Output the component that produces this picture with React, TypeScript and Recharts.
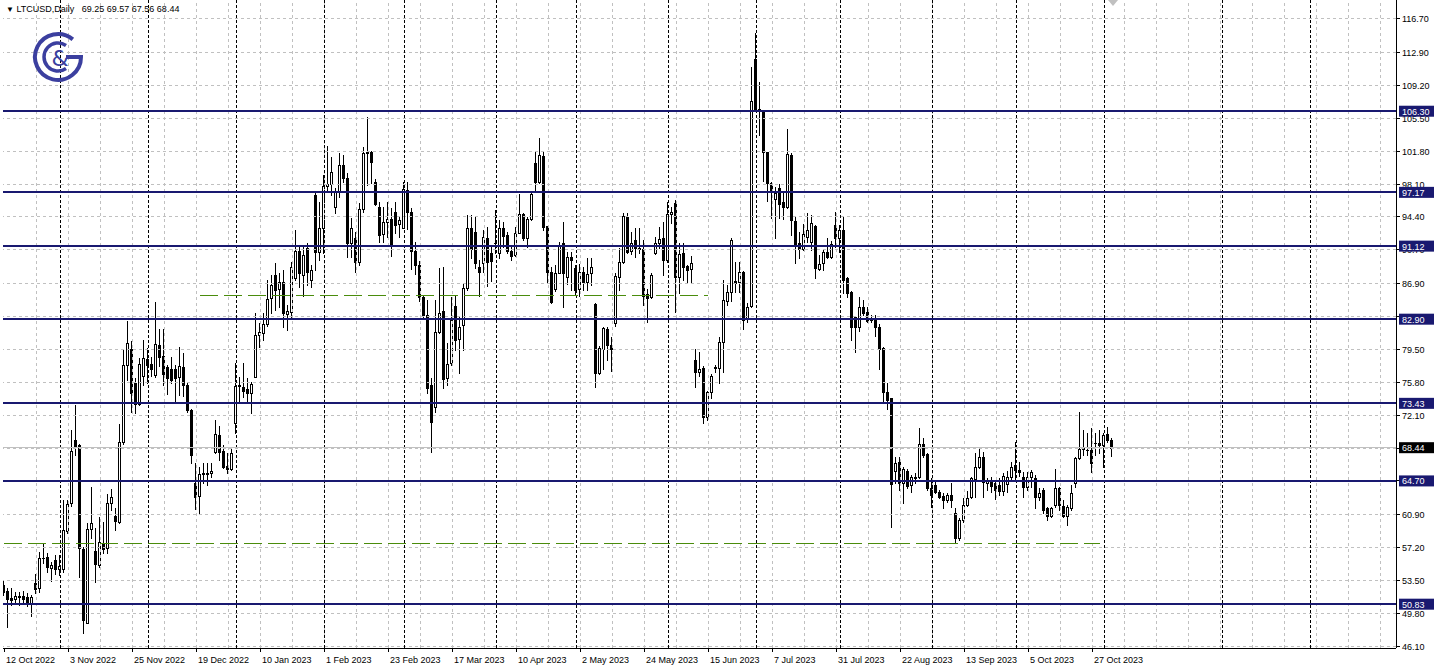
import React from 'react';
import { ComposedChart, Bar, XAxis, YAxis, ReferenceLine } from 'recharts';

// daily LTCUSD candles, one per weekday from 12 Oct 2022
const opens = [
  53.0, 52.35, 51.52, 51.37, 51.7, 51.75, 51.67, 51.0, 53.17, 52.61, 56.06, 56.1, 54.94, 55.8, 54.75, 54.75, 59.1, 62.18, 69.3, 68.74,
  57.0, 48.75, 59.25, 56.81, 55.24, 57.75, 57.11, 62.18, 60.75, 60.11, 69.12, 77.8, 79.5, 75.7, 73.3, 76.54, 78.38, 77.81, 76.61, 79.99,
  78.75, 77.55, 77.25, 77.25, 76.35, 77.55, 75.53, 72.67, 64.5, 63.04, 65.44, 65.55, 65.55, 67.99, 69.86, 68.1, 66.37, 66.0, 71.17, 75.38,
  75.3, 75.0, 74.55, 76.43, 81.11, 81.38, 82.35, 85.24, 87.87, 86.25, 87.12, 83.44, 83.74, 87.5, 90.57, 87.87, 90.95, 87.31, 96.87, 90.5,
  93.12, 97.85, 98.07, 95.56, 97.25, 100.25, 98.82, 91.43, 92.0, 89.3, 95.3, 101.56, 101.75, 98.37, 95.56, 92.44, 93.8, 94.13, 95.0, 93.57,
  93.2, 97.43, 95.0, 90.6, 89.0, 85.43, 83.36, 75.49, 73.05, 81.49, 83.81, 76.24, 77.92, 84.38, 80.62, 82.24, 86.36, 93.11, 92.74, 88.8,
  89.25, 91.99, 90.38, 91.5, 90.3, 93.11, 92.36, 90.6, 90.11, 92.63, 94.69, 91.99, 94.13, 100.5, 98.37, 101.25, 93.38, 88.2, 86.25, 88.13,
  91.43, 87.6, 89.93, 88.62, 86.25, 88.24, 87.11, 88.05, 84.6, 76.87, 79.5, 81.75, 79.99, 82.5, 87.6, 89.37, 94.43, 90.6, 91.8, 90.9,
  90.75, 85.73, 85.35, 90.38, 91.43, 91.99, 89.55, 94.73, 96.0, 87.6, 90.3, 88.88, 88.5, 78.3, 77.0, 77.4, 71.9, 74.66, 77.4, 77.44,
  80.37, 84.94, 85.99, 87.19, 87.04, 88.24, 82.92, 84.42, 112.17, 106.55, 106.32, 101.67, 98.18, 96.42, 97.7, 96.04, 95.56, 101.37, 93.94, 91.43,
  90.79, 92.2, 91.62, 93.42, 88.54, 89.18, 90.42, 89.93, 93.49, 91.99, 92.93, 87.5, 85.99, 83.18, 81.98, 84.23, 83.74, 82.99, 82.99, 82.06,
  79.62, 74.74, 73.99, 65.85, 66.87, 64.43, 65.85, 64.24, 65.1, 65.18, 68.85, 67.73, 63.86, 64.24, 63.49, 63.0, 62.55, 63.11, 61.05, 58.24,
  60.3, 61.99, 62.93, 64.9, 66.3, 67.35, 64.42, 64.73, 64.42, 64.24, 63.6, 64.3, 65.17, 66.49, 65.92, 65.17, 64.05, 65.17, 64.99, 62.92,
  63.67, 61.61, 60.75, 61.98, 63.86, 61.87, 60.75, 61.61, 64.5, 67.24, 68.25, 68.2, 68.17, 68.92, 68.92, 68.74, 69.94, 69.25,
];
const highs = [
  53.4, 52.6, 52.6, 52.24, 52.24, 52.35, 52.05, 51.86, 54.19, 56.74, 57.67, 56.63, 55.61, 56.36, 56.36, 62.55, 62.55, 70.43, 73.24, 68.9,
  57.3, 59.93, 64.05, 59.36, 60.68, 60.11, 63.23, 63.79, 61.61, 71.1, 79.5, 82.7, 80.5, 76.3, 78.5, 80.55, 79.61, 78.6, 84.87, 81.75,
  81.79, 77.74, 78.68, 77.74, 79.8, 79.05, 75.68, 72.8, 66.67, 66.3, 66.67, 66.67, 66.67, 71.55, 70.87, 68.74, 67.8, 68.36, 77.93, 76.43,
  77.93, 76.24, 75.86, 83.55, 82.43, 83.63, 87.3, 87.87, 89.18, 88.05, 88.43, 84.5, 89.37, 92.93, 91.25, 91.25, 91.43, 89.0, 97.06, 96.12,
  99.12, 102.39, 101.19, 97.62, 101.56, 101.37, 99.31, 94.25, 92.75, 95.94, 102.31, 105.69, 101.8, 98.67, 96.12, 95.56, 96.12, 95.37, 96.12, 94.5,
  98.3, 98.3, 95.37, 91.6, 89.4, 85.6, 85.05, 76.24, 85.05, 88.61, 88.8, 80.17, 85.43, 85.5, 83.18, 86.85, 94.62, 94.62, 94.43, 89.55,
  92.93, 93.3, 91.05, 95.18, 94.05, 93.86, 92.74, 91.05, 93.3, 96.98, 94.88, 94.35, 97.3, 101.85, 103.24, 101.85, 93.4, 88.8, 88.99, 91.61,
  93.87, 90.49, 90.49, 88.99, 89.1, 88.73, 89.74, 89.74, 84.7, 79.88, 82.05, 82.05, 80.93, 88.05, 90.87, 94.88, 94.8, 92.74, 93.12, 93.12,
  91.8, 86.25, 88.05, 92.18, 93.3, 93.87, 96.12, 95.55, 96.3, 91.43, 91.43, 88.99, 90.0, 79.6, 79.2, 77.6, 74.8, 76.69, 77.74, 80.93,
  87.31, 86.74, 91.99, 89.37, 89.37, 88.3, 84.68, 111.31, 115.06, 109.62, 106.44, 101.75, 98.37, 97.81, 98.07, 97.06, 104.3, 101.56, 94.43, 92.74,
  93.57, 94.81, 94.62, 93.49, 90.12, 90.79, 92.07, 91.69, 94.92, 93.49, 94.54, 87.6, 86.1, 83.3, 85.36, 85.06, 84.31, 83.37, 83.37, 82.36,
  79.81, 75.68, 74.0, 67.35, 67.35, 66.3, 66.0, 65.36, 65.55, 70.62, 69.49, 67.8, 64.99, 64.8, 63.68, 63.3, 63.3, 64.43, 61.61, 60.49,
  62.74, 63.6, 65.18, 67.8, 68.37, 67.99, 64.99, 65.17, 64.8, 64.99, 65.55, 65.8, 66.86, 69.11, 66.86, 65.74, 65.74, 65.92, 65.36, 63.86,
  63.86, 61.8, 61.72, 66.0, 64.05, 62.55, 61.98, 64.24, 67.42, 72.49, 70.42, 70.05, 70.61, 70.05, 70.42, 70.05, 70.8, 69.57,
];
const lows = [
  51.9, 48.3, 50.74, 50.92, 50.74, 50.92, 50.62, 49.5, 52.12, 52.24, 55.42, 54.49, 53.47, 54.22, 54.11, 54.49, 58.8, 61.9, 67.62, 53.92,
  47.55, 48.67, 58.24, 53.36, 55.05, 56.63, 56.55, 61.43, 59.18, 60.0, 68.9, 76.0, 72.5, 72.3, 73.2, 75.49, 75.68, 76.5, 76.43, 77.63,
  75.49, 74.48, 75.75, 73.5, 74.36, 74.25, 72.49, 66.67, 61.5, 60.97, 64.42, 64.24, 65.17, 67.87, 67.05, 66.11, 65.55, 65.92, 70.05, 73.61,
  74.18, 73.5, 72.37, 76.35, 79.8, 80.55, 82.13, 83.55, 83.93, 84.3, 82.05, 81.68, 83.0, 87.31, 86.56, 85.54, 86.74, 86.56, 88.43, 89.56,
  90.31, 97.25, 96.87, 94.81, 96.68, 98.37, 89.93, 89.93, 88.25, 89.0, 95.0, 98.0, 98.18, 95.7, 91.62, 91.62, 92.18, 90.05, 92.56, 92.2,
  93.12, 93.06, 88.5, 88.0, 85.0, 83.0, 74.55, 67.98, 72.48, 81.3, 75.11, 75.49, 77.74, 79.42, 76.8, 79.42, 86.18, 89.74, 88.61, 85.54,
  88.24, 86.66, 87.23, 90.3, 89.74, 91.05, 90.3, 89.55, 90.0, 92.55, 91.8, 90.98, 94.05, 97.43, 98.18, 92.93, 86.93, 84.68, 86.1, 88.05,
  84.23, 86.85, 86.18, 85.61, 85.5, 86.18, 86.18, 86.74, 75.3, 76.72, 77.25, 78.3, 77.1, 82.13, 86.18, 89.18, 90.3, 90.23, 89.93, 90.3,
  84.49, 82.61, 85.24, 90.23, 90.87, 87.87, 89.37, 93.68, 83.74, 85.8, 87.3, 87.11, 86.93, 75.3, 76.5, 71.2, 71.6, 74.06, 76.99, 75.68,
  76.99, 84.49, 84.94, 85.99, 85.99, 81.79, 82.62, 84.3, 106.32, 103.62, 98.45, 96.2, 94.32, 91.99, 94.24, 94.17, 95.44, 92.37, 89.18, 89.74,
  90.68, 91.62, 90.68, 87.49, 88.43, 88.43, 89.74, 89.74, 91.06, 90.49, 85.8, 85.43, 80.56, 79.24, 81.61, 83.37, 82.62, 82.62, 81.01, 77.26,
  73.5, 72.75, 59.55, 64.5, 63.68, 62.18, 63.86, 63.49, 64.5, 64.99, 67.43, 63.68, 61.8, 63.3, 62.74, 61.61, 62.36, 61.73, 57.68, 58.05,
  60.11, 61.88, 62.74, 62.93, 66.11, 62.92, 63.67, 63.48, 62.62, 63.11, 63.11, 63.4, 64.8, 64.8, 65.25, 62.92, 63.67, 64.05, 61.61, 62.55,
  61.12, 60.3, 60.6, 61.8, 61.42, 60.67, 59.73, 61.42, 64.05, 67.12, 67.61, 67.61, 65.74, 67.61, 67.8, 66.3, 69.11, 67.56,
];
const closes = [
  52.2, 51.37, 51.3, 51.75, 51.65, 51.37, 51.04, 51.6, 52.57, 55.99, 56.0, 54.97, 55.24, 54.75, 55.13, 59.18, 62.1, 68.1, 68.6, 57.11,
  49.05, 59.25, 59.93, 55.31, 57.79, 57.0, 62.18, 62.93, 60.23, 69.12, 77.8, 80.2, 74.6, 73.3, 77.9, 78.49, 77.74, 77.25, 80.06, 78.68,
  76.73, 76.24, 76.05, 76.31, 77.63, 75.49, 72.67, 67.61, 62.92, 65.44, 65.62, 65.5, 65.81, 69.97, 67.99, 66.22, 66.0, 67.8, 75.38, 75.53,
  74.85, 74.55, 75.6, 81.11, 81.49, 82.35, 85.13, 86.74, 86.18, 87.12, 83.55, 83.82, 88.81, 90.57, 88.06, 90.12, 88.25, 88.43, 90.5, 93.2,
  97.89, 98.07, 99.5, 97.25, 100.25, 98.82, 91.43, 93.12, 89.3, 95.3, 101.56, 101.67, 100.62, 95.82, 92.37, 93.87, 94.13, 91.25, 93.5, 94.06,
  97.55, 95.0, 90.6, 89.0, 85.43, 83.36, 75.11, 71.36, 81.49, 83.62, 76.12, 77.81, 82.8, 80.55, 81.97, 86.36, 93.11, 90.75, 89.25, 88.24,
  92.1, 89.36, 89.48, 91.45, 93.11, 92.25, 90.6, 90.0, 92.55, 94.73, 91.99, 94.13, 97.0, 98.37, 101.37, 93.23, 88.24, 84.86, 88.13, 91.24,
  88.05, 89.93, 89.55, 86.18, 88.24, 87.11, 87.98, 88.73, 76.87, 79.61, 81.86, 79.99, 79.5, 87.75, 89.37, 94.5, 90.49, 91.43, 90.87, 90.85,
  85.5, 85.24, 87.87, 91.43, 91.88, 89.55, 94.73, 94.99, 87.6, 90.23, 88.8, 88.43, 89.18, 77.0, 77.35, 71.9, 74.66, 76.54, 77.5, 80.37,
  85.05, 85.99, 91.81, 86.93, 88.17, 82.8, 84.3, 107.45, 106.44, 106.4, 101.67, 98.18, 97.25, 97.06, 95.82, 95.56, 101.45, 94.06, 91.24, 90.79,
  92.44, 92.9, 93.68, 88.62, 89.07, 90.42, 89.93, 91.32, 91.99, 92.93, 87.31, 85.81, 81.98, 81.98, 84.23, 83.63, 82.73, 82.81, 82.06, 79.51,
  74.74, 73.8, 64.35, 66.75, 64.43, 66.0, 64.13, 65.18, 65.05, 68.85, 67.62, 63.86, 63.11, 63.49, 62.93, 62.55, 63.11, 62.55, 58.24, 60.3,
  61.99, 62.74, 64.99, 66.3, 67.43, 64.6, 64.8, 64.12, 63.67, 63.6, 65.25, 65.17, 66.3, 65.92, 65.74, 64.05, 65.17, 65.74, 62.92, 63.37,
  61.42, 60.75, 61.61, 63.86, 61.98, 60.75, 61.72, 63.37, 67.24, 68.25, 68.36, 68.17, 66.67, 69.0, 68.74, 69.86, 69.3, 68.44,
];

const tickBars = [0, 16, 32, 48, 64, 80, 96, 112, 128, 144, 160, 176, 192, 208, 224, 240, 256, 272];
const tickLabels = [
  '12 Oct 2022', '3 Nov 2022', '25 Nov 2022', '19 Dec 2022', '10 Jan 2023', '1 Feb 2023', '23 Feb 2023', '17 Mar 2023', '10 Apr 2023',
  '2 May 2023', '24 May 2023', '15 Jun 2023', '7 Jul 2023', '31 Jul 2023', '22 Aug 2023', '13 Sep 2023', '5 Oct 2023', '27 Oct 2023',
];
const monthStartBars = [14, 36, 58, 80, 100, 123, 143, 166, 188, 209, 232, 253, 275];
const futureMarkBars = [304.5, 326.5];
const priceTicks = [116.7, 112.9, 109.2, 105.5, 101.8, 98.1, 94.4, 90.7, 86.9, 83.2, 79.5, 75.8, 72.1, 68.4, 64.7, 60.9, 57.2, 53.5, 49.8, 46.1];
const levelPrices = [106.3, 97.17, 91.12, 82.9, 73.43, 64.7, 50.83];
const lastPrice = 68.44;
const trendLines = [
  { price: 85.62, from: 49, to: 176 },
  { price: 57.68, from: 0, to: 274 },
];
const symbolTitle = 'LTCUSD,Daily';
const ohlcTitle = '69.25 69.57 67.56 68.44';

const candles = opens.map((o, i) => ({ i, open: o, high: highs[i], low: lows[i], close: closes[i] }));

const W = 1438;
const H = 671;
const NAVY = '#191970';
const GRID = '#c0c0c0';
const FONT = '"Liberation Sans", Arial, sans-serif';
const Y_DOMAIN = [45.9, 118.815];
const gridBars = Array.from({ length: 43 }, (_, k) => (k + 1) * 8);

const Candle = (props: any) => {
  const { x, y, width, height, payload } = props;
  const { open, high, low, close } = payload;
  const cx = Math.floor(x + width / 2 + 0.01);
  const span = high - low || 1;
  const yOf = (v: number) => y + ((high - v) / span) * height;
  const yh = Math.round(y);
  const yl = Math.round(y + height);
  const top = Math.round(yOf(Math.max(open, close)));
  const bot = Math.round(yOf(Math.min(open, close)));
  const bull = close >= open;
  return (
    <g>
      <rect x={cx} y={yh} width={1} height={Math.max(1, yl - yh + 1)} fill="#000" />
      <rect x={cx - 1} y={top} width={3} height={Math.max(1, bot - top + 1)} fill="#000" />
      {bull && bot - top >= 2 && <rect x={cx} y={top + 1} width={1} height={bot - top - 1} fill="#fff" />}
    </g>
  );
};

const XTick = (props: any) => {
  const { x, y, payload } = props;
  const idx = tickBars.indexOf(payload.value);
  return (
    <g>
      <line x1={x} x2={x} y1={y} y2={y + 4} stroke="#000" />
      <text x={x + 2} y={y + 15} fontSize={9} fontFamily={FONT} fill="#000">
        {tickLabels[idx]}
      </text>
    </g>
  );
};

const YTick = (props: any) => {
  const { x, y, payload, index } = props;
  const v = Number(payload.value);
  if (index >= priceTicks.length) {
    const isLast = index === priceTicks.length + levelPrices.length;
    return (
      <g>
        <rect x={x + 3} y={y - 5.5} width={35} height={11} fill={isLast ? '#000' : NAVY} />
        <text x={x + 6} y={y + 3.5} fontSize={9} fontFamily={FONT} fill="#fff">
          {v.toFixed(2)}
        </text>
      </g>
    );
  }
  return (
    <g>
      <line x1={x} x2={x + 4} y1={y} y2={y} stroke="#000" />
      <text x={x + 6} y={y + 3.5} fontSize={9} fontFamily={FONT} fill="#000">
        {v.toFixed(2)}
      </text>
    </g>
  );
};

const Logo = () => (
  <svg width={60} height={60} style={{ position: 'absolute', left: 28, top: 27 }} viewBox="28 27 60 60">
    <path d="M 72.8 39.4 A 23 23 0 1 0 81 57 L 66 57" fill="none" stroke="#3b3f9f" strokeWidth={4} />
    <path d="M 66 45.5 A 14 14 0 1 0 66 68.5" fill="none" stroke="#3b3f9f" strokeWidth={3.5} />
    <text x={60} y={66} fontSize={22} fontFamily='"DejaVu Sans", sans-serif' fill="#3b3f9f" textAnchor="middle">
      &amp;
    </text>
  </svg>
);

export default function App() {
  return (
    <div style={{ position: 'absolute', left: 0, top: 0, width: W, height: H, background: '#fff', overflow: 'hidden' }}>
      <style>{'svg line { shape-rendering: crispEdges; }'}</style>
      <ComposedChart width={W} height={H} data={candles} margin={{ top: 0, right: 0, bottom: 0, left: 3 }}>
        <XAxis
          dataKey="i"
          type="number"
          domain={[-0.25, 348]}
          allowDataOverflow
          ticks={tickBars}
          interval={0}
          tickSize={0}
          tickMargin={0}
          tickLine={false}
          tick={<XTick />}
          axisLine={{ stroke: '#000' }}
          height={23}
        />
        <YAxis
          orientation="right"
          type="number"
          domain={Y_DOMAIN}
          allowDataOverflow
          ticks={[...priceTicks, ...levelPrices, lastPrice]}
          interval={0}
          tickSize={0}
          tickMargin={0}
          tickLine={false}
          tick={<YTick />}
          axisLine={{ stroke: '#000' }}
          width={42}
        />
        <YAxis yAxisId="frame" orientation="left" width={0} tick={false} axisLine={{ stroke: '#000' }} domain={Y_DOMAIN} />

        {priceTicks.map((p) => (
          <ReferenceLine key={'hg' + p} y={p} stroke={GRID} strokeDasharray="3 3" />
        ))}
        {gridBars.map((b) => (
          <ReferenceLine key={'vg' + b} x={b} stroke={GRID} strokeDasharray="3 3" />
        ))}
        {[...monthStartBars, ...futureMarkBars].map((b) => (
          <ReferenceLine key={'ms' + b} x={b} stroke="#000" strokeDasharray="3 2" />
        ))}
        <ReferenceLine y={lastPrice} stroke={GRID} />

        <Bar dataKey={(d: any) => [d.low, d.high]} barSize={3} shape={<Candle />} isAnimationActive={false} />

        {levelPrices.map((p) => (
          <ReferenceLine key={'lv' + p} y={p} stroke={NAVY} strokeWidth={2} />
        ))}
        {trendLines.map((t) => (
          <ReferenceLine
            key={'tl' + t.price}
            segment={[
              { x: t.from, y: t.price },
              { x: t.to, y: t.price },
            ]}
            stroke="#4a8c0c"
            strokeDasharray="18 6"
          />
        ))}
      </ComposedChart>

      <div style={{ position: 'absolute', left: 6, top: 4, fontFamily: FONT, fontSize: 9, lineHeight: '11px', whiteSpace: 'pre', color: '#000' }}>
        <span style={{ fontSize: 8 }}>▼</span> {symbolTitle}   {ohlcTitle}
      </div>
      <Logo />
      <svg width={12} height={8} style={{ position: 'absolute', left: 1108, top: 0 }}>
        <polygon points="0,0 10,0 5,6" fill="#c0c0c0" />
      </svg>
    </div>
  );
}
